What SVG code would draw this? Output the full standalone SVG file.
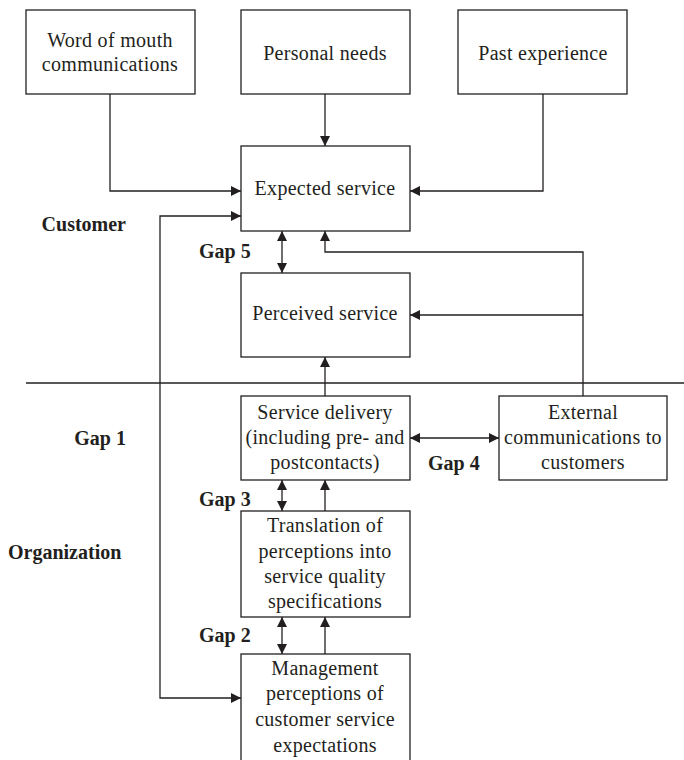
<svg xmlns="http://www.w3.org/2000/svg" width="684" height="760" viewBox="0 0 684 760">
<style>
.box{fill:#fff;stroke:#231f20;stroke-width:1.3}
.t{font-family:"Liberation Serif",serif;font-size:20px;letter-spacing:0.3px;fill:#231f20;text-anchor:middle}
.b{font-family:"Liberation Serif",serif;font-size:20px;font-weight:bold;fill:#231f20}
.r{text-anchor:end}
.c{fill:none;stroke:#231f20;stroke-width:1.3}
</style>
<defs>
<marker id="ah" viewBox="0 0 10 10" refX="10" refY="5" markerWidth="10" markerHeight="10" markerUnits="userSpaceOnUse" orient="auto-start-reverse">
<path d="M0,0 L10,5 L0,10 z" fill="#231f20"/>
</marker>
</defs>
<rect width="684" height="760" fill="#fff"/>
<g id="connectors">
<path class="c" d="M110,94 V191 H241" marker-end="url(#ah)"/>
<path class="c" d="M325,94 V146" marker-end="url(#ah)"/>
<path class="c" d="M543,94 V191 H410" marker-end="url(#ah)"/>
<path class="c" d="M241,216 H160 V698 H241" marker-start="url(#ah)" marker-end="url(#ah)"/>
<path class="c" d="M282,231 V273" marker-start="url(#ah)" marker-end="url(#ah)"/>
<path class="c" d="M583,396 V252 H325 V231" marker-end="url(#ah)"/>
<path class="c" d="M583,315 H410" marker-end="url(#ah)"/>
<path class="c" d="M26,383 H684"/>
<path class="c" d="M325,396 V357" marker-end="url(#ah)"/>
<path class="c" d="M410,438 H499" marker-start="url(#ah)" marker-end="url(#ah)"/>
<path class="c" d="M282,480 V511" marker-start="url(#ah)" marker-end="url(#ah)"/>
<path class="c" d="M325,511 V480" marker-end="url(#ah)"/>
<path class="c" d="M282,617 V654" marker-start="url(#ah)" marker-end="url(#ah)"/>
<path class="c" d="M325,654 V617" marker-end="url(#ah)"/>
</g>
<g id="word-of-mouth"><rect class="box" x="26" y="10" width="169" height="84"/><text class="t" x="110" y="47">Word of mouth</text><text class="t" x="110" y="71">communications</text></g>
<g id="personal-needs"><rect class="box" x="241" y="10" width="169" height="84"/><text class="t" x="325" y="60">Personal needs</text></g>
<g id="past-experience"><rect class="box" x="458" y="10" width="169" height="84"/><text class="t" x="543" y="60">Past experience</text></g>
<g id="expected-service"><rect class="box" x="241" y="146" width="169" height="85"/><text class="t" x="325" y="195">Expected service</text></g>
<g id="perceived-service"><rect class="box" x="241" y="273" width="169" height="84"/><text class="t" x="325" y="320">Perceived service</text></g>
<g id="service-delivery"><rect class="box" x="241" y="396" width="169" height="84"/><text class="t" x="325" y="419">Service delivery</text><text class="t" x="325" y="444">(including pre- and</text><text class="t" x="325" y="469">postcontacts)</text></g>
<g id="external-communications"><rect class="box" x="499" y="396" width="168" height="84"/><text class="t" x="583" y="419">External</text><text class="t" x="583" y="444">communications to</text><text class="t" x="583" y="469">customers</text></g>
<g id="translation"><rect class="box" x="241" y="511" width="169" height="106"/><text class="t" x="325" y="532">Translation of</text><text class="t" x="325" y="558">perceptions into</text><text class="t" x="325" y="583">service quality</text><text class="t" x="325" y="608">specifications</text></g>
<g id="management"><rect class="box" x="241" y="654" width="169" height="120"/><text class="t" x="325" y="675">Management</text><text class="t" x="325" y="700">perceptions of</text><text class="t" x="325" y="726">customer service</text><text class="t" x="325" y="752">expectations</text></g>
<g id="labels">
<text class="b r" x="126" y="231">Customer</text>
<text class="b" x="199" y="258">Gap 5</text>
<text class="b r" x="126" y="445">Gap 1</text>
<text class="b" x="428" y="470">Gap 4</text>
<text class="b" x="199" y="506">Gap 3</text>
<text class="b" x="8" y="559">Organization</text>
<text class="b" x="199" y="642">Gap 2</text>
</g>
</svg>
